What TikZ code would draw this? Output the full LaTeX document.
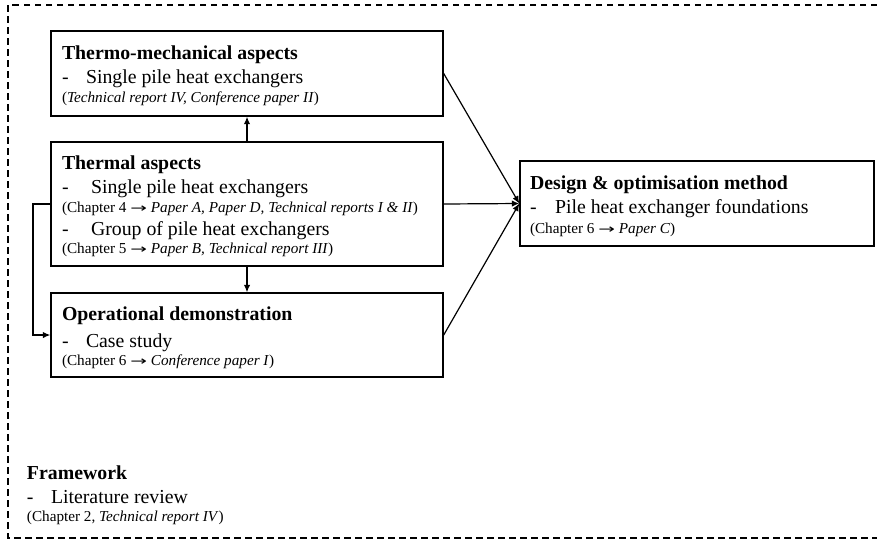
\documentclass[tikz,border=0pt]{standalone}
\usepackage{fontspec}
\setmainfont{Liberation Serif}
\newfontfamily\arrfont{DejaVu Sans}
\usetikzlibrary{arrows.meta}
\newcommand{\rarr}{{\arrfont\fontsize{12.5}{15}\selectfont\scalebox{1.6}[1.0]{→}}}
\tikzset{
  box/.style={draw, line width=1.4pt, minimum width=392pt, inner sep=0pt},
  txt/.style={anchor=base west, inner sep=0pt, outer sep=0pt},
  ttl/.style={txt, font=\fontsize{19.8}{22}\selectfont\bfseries},
  itm/.style={txt, font=\fontsize{19.8}{22}\selectfont},
  ref/.style={txt, font=\fontsize{15.2}{17}\selectfont},
  conn/.style={line width=1.2pt},
  tip/.style={-{Latex[length=7.5pt,width=6.5pt]}},
}
\begin{document}
\begin{tikzpicture}[x=1pt,y=-1pt]
\useasboundingbox (0,0) rectangle (877,542);
% dashed frame
\draw[line width=1.3pt, dash pattern=on 6.5pt off 4.5pt] (877,5) -- (8,5) -- (8,538) -- (877,538);

% boxes
\node[box, minimum height=85pt] (b1) at (247,73.5) {};
\node[box, minimum height=124pt] (b2) at (247,204) {};
\node[box, minimum height=84pt] (b3) at (247,335) {};
\node[box, minimum width=354pt, minimum height=85pt] (b4) at (697,203.5) {};

% box 1 text
\node[ttl] (t1) at (62,59) {Thermo-mechanical aspects};
\node[itm] (d1) at (62,83) {-};
\node[itm] (s1) at (86,83) {Single pile heat exchangers};
\node[ref] (r1) at (62,102) {(\textit{Technical report IV, Conference paper II})};

% box 2 text
\node[ttl] (t2) at (62,169) {Thermal aspects};
\node[itm] (d2) at (62,193) {-};
\node[itm] (s2) at (91,193) {Single pile heat exchangers};
\node[ref] (r2) at (62,212) {(Chapter 4 \rarr{} \textit{Paper A, Paper D, Technical reports I \& II})};
\node[itm] (d2b) at (62,235) {-};
\node[itm] (s2b) at (91,235) {Group of pile heat exchangers};
\node[ref] (r2b) at (62,253) {(Chapter 5 \rarr{} \textit{Paper B, Technical report III})};

% box 3 text
\node[ttl] (t3) at (62,320) {Operational demonstration};
\node[itm] (d3) at (62,347) {-};
\node[itm] (s3) at (86,347) {Case study};
\node[ref] (r3) at (62,365) {(Chapter 6 \rarr{} \textit{Conference paper I})};

% box 4 text
\node[ttl] (t4) at (530,189) {Design \& optimisation method};
\node[itm] (d4) at (530,213) {-};
\node[itm] (s4) at (555,213) {Pile heat exchanger foundations};
\node[ref] (r4) at (530,233) {(Chapter 6 \rarr{} \textit{Paper C})};

% framework text
\node[ttl] (t5) at (27,479) {Framework};
\node[itm] (d5) at (27,503) {-};
\node[itm] (s5) at (51,503) {Literature review};
\node[ref] (r5) at (27,521) {(Chapter 2, \textit{Technical report IV})};

% connectors
\draw[conn, tip] (b2.north) -- (b1.south);
\draw[conn, tip] (b2.south) -- (b3.north);
\coordinate (lt) at (33,204);
\coordinate (lb) at (33,335);
\draw[conn, tip] (b2.west) -- (lt) -- (lb) -- (b3.west);
\draw[conn, tip] (b1.east) -- (b4.west);
\draw[conn, tip] (b2.east) -- (b4.west);
\draw[conn, tip] (b3.east) -- (b4.west);
\end{tikzpicture}
\end{document}
